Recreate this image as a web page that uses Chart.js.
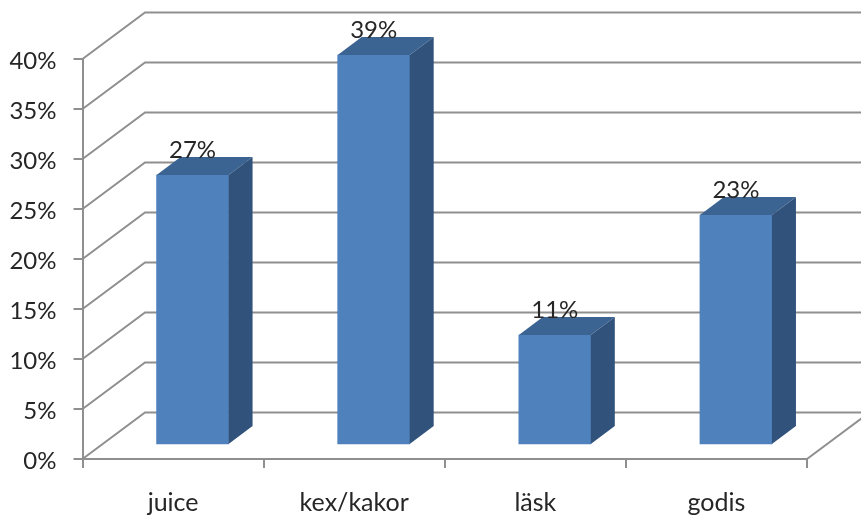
<!DOCTYPE html>
<html>
<head>
<meta charset="utf-8">
<title>Chart</title>
<script src="https://cdn.jsdelivr.net/npm/chart.js@4/dist/chart.umd.js"></script>
<style>
  html, body { margin: 0; padding: 0; background: #fff; }
  canvas { display: block; }
</style>
</head>
<body>
<canvas id="chart" width="861" height="518"></canvas>
<script>
const categories = ['juice', 'kex/kakor', 'läsk', 'godis'];
const shares = [27, 39, 11, 23];

const lineColor = '#8f8f8f';
const textColor = '#262626';
const fontFamily = 'Lato, "Noto Sans", sans-serif';

// depth of the floor and of a single bar, in px
const wallDepth = { x: 62.5, y: -46.5 };
const barDepth = { x: 24, y: -18 };
const barShift = { x: 19.5, y: -14 };

function polygon(ctx, points, color) {
  ctx.beginPath();
  points.forEach((p, i) => i ? ctx.lineTo(p[0], p[1]) : ctx.moveTo(p[0], p[1]));
  ctx.closePath();
  ctx.fillStyle = color;
  ctx.fill();
}

// back wall, floor and the slanted grid lines on the side wall
const wallsPlugin = {
  id: 'walls',
  beforeDatasetsDraw(chart) {
    const { ctx, chartArea, scales } = chart;
    ctx.save();
    ctx.strokeStyle = lineColor;
    ctx.lineWidth = 2;
    scales.y.ticks.forEach(tick => {
      const y = scales.y.getPixelForValue(tick.value);
      ctx.beginPath();
      ctx.moveTo(chartArea.left, y);
      ctx.lineTo(chartArea.left + wallDepth.x, y + wallDepth.y);
      ctx.lineTo(chart.width, y + wallDepth.y);
      ctx.stroke();
    });
    ctx.beginPath();
    ctx.moveTo(chartArea.right, chartArea.bottom);
    ctx.lineTo(chartArea.right + wallDepth.x, chartArea.bottom + wallDepth.y);
    ctx.stroke();
    ctx.restore();

    // bars stand a bit inside the floor
    ctx.save();
    ctx.translate(barShift.x, barShift.y);
  },
  afterDatasetsDraw(chart) {
    const { ctx } = chart;
    chart.getDatasetMeta(0).data.forEach((bar, i) => {
      const left = bar.x - bar.width / 2;
      const right = bar.x + bar.width / 2;
      polygon(ctx, [
        [left, bar.y],
        [left + barDepth.x, bar.y + barDepth.y],
        [right + barDepth.x, bar.y + barDepth.y],
        [right, bar.y]
      ], '#3c6493');
      polygon(ctx, [
        [right, bar.y],
        [right + barDepth.x, bar.y + barDepth.y],
        [right + barDepth.x, bar.base + barDepth.y],
        [right, bar.base]
      ], '#31527b');

      ctx.fillStyle = textColor;
      ctx.font = '24px ' + fontFamily;
      ctx.textAlign = 'center';
      ctx.textBaseline = 'alphabetic';
      ctx.fillText(shares[i] + '%', bar.x, bar.y - 17);
    });
    ctx.restore();
  }
};

new Chart(document.getElementById('chart'), {
  type: 'bar',
  data: {
    labels: categories,
    datasets: [{
      data: shares,
      backgroundColor: '#4f81bd',
      borderWidth: 0,
      barThickness: 72
    }]
  },
  options: {
    responsive: false,
    animation: false,
    layout: { padding: { top: 59, right: 54, left: 0, bottom: 0 } },
    plugins: {
      legend: { display: false },
      tooltip: { enabled: false }
    },
    scales: {
      x: {
        afterFit(scale) { scale.height = 59; },
        border: { color: lineColor, width: 2 },
        grid: { drawOnChartArea: false, color: lineColor, lineWidth: 2, tickLength: 9 },
        ticks: {
          color: textColor,
          font: { family: fontFamily, size: 25 },
          padding: 20,
          maxRotation: 0
        }
      },
      y: {
        min: 0,
        max: 40,
        afterFit(scale) { scale.width = 82.5; },
        border: { color: lineColor, width: 2 },
        grid: { drawOnChartArea: false, color: lineColor, lineWidth: 2, tickLength: 9 },
        ticks: {
          stepSize: 5,
          color: textColor,
          font: { family: fontFamily, size: 24 },
          padding: 17,
          labelOffset: 2.5,
          callback: value => value + '%'
        }
      }
    }
  },
  plugins: [wallsPlugin]
});
</script>
</body>
</html>
